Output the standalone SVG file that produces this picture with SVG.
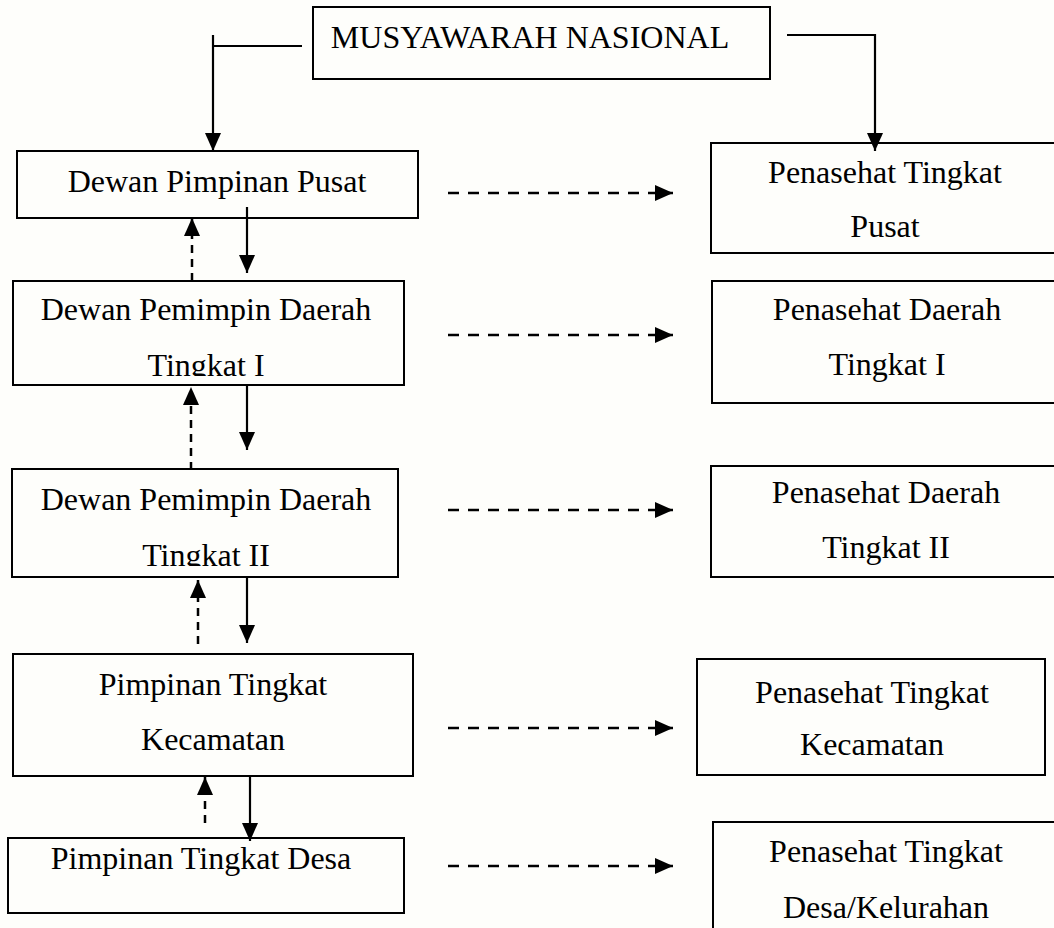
<svg xmlns="http://www.w3.org/2000/svg" width="1054" height="928" viewBox="0 0 1054 928">
<style>
.box{fill:none;stroke:#000;stroke-width:2}
.t{font-family:"Liberation Serif","Times New Roman",serif;font-size:32px;fill:#000;text-anchor:middle}
.ln{stroke:#000;stroke-width:2.2;fill:none}
.dv{stroke:#000;stroke-width:2.5;fill:none;stroke-dasharray:8 6}
.dh{stroke:#000;stroke-width:2.5;fill:none;stroke-dasharray:11 9}
</style>
<defs>
<marker id="ah" markerUnits="userSpaceOnUse" markerWidth="18" markerHeight="16" refX="18" refY="8" orient="auto" viewBox="0 0 18 16">
<path d="M0,0 L18,8 L0,16 z" fill="#000"/>
</marker>
<clipPath id="c2"><rect x="0" y="280" width="420" height="96"/></clipPath>
<clipPath id="c3"><rect x="0" y="468" width="420" height="98"/></clipPath>
</defs>
<rect width="1054" height="928" fill="#fefefb"/>
<g id="connectors">
<polyline class="ln" points="302,46 213,46"/>
<line class="ln" x1="213" y1="35" x2="213" y2="151" marker-end="url(#ah)"/>
<polyline class="ln" points="787,35 875,35 875,151" marker-end="url(#ah)"/>
<line class="ln" x1="247" y1="207" x2="247" y2="273" marker-end="url(#ah)"/>
<line class="ln" x1="247" y1="385" x2="247" y2="450" marker-end="url(#ah)"/>
<line class="ln" x1="247" y1="577" x2="247" y2="643" marker-end="url(#ah)"/>
<line class="ln" x1="250" y1="776" x2="250" y2="841" marker-end="url(#ah)"/>
<line class="dv" x1="192" y1="281" x2="192" y2="218" marker-end="url(#ah)"/>
<line class="dv" x1="191" y1="470" x2="191" y2="387" marker-end="url(#ah)"/>
<line class="dv" x1="198" y1="644" x2="198" y2="580" marker-end="url(#ah)"/>
<line class="dv" x1="205" y1="823" x2="205" y2="777" marker-end="url(#ah)"/>
<line class="dh" x1="448" y1="193" x2="673" y2="193" marker-end="url(#ah)"/>
<line class="dh" x1="448" y1="335" x2="673" y2="335" marker-end="url(#ah)"/>
<line class="dh" x1="448" y1="510" x2="673" y2="510" marker-end="url(#ah)"/>
<line class="dh" x1="448" y1="728" x2="673" y2="728" marker-end="url(#ah)"/>
<line class="dh" x1="448" y1="866" x2="673" y2="866" marker-end="url(#ah)"/>
</g>
<g id="musyawarah">
<rect class="box" x="313" y="7" width="457" height="72"/>
<text class="t" x="530" y="48">MUSYAWARAH NASIONAL</text>
</g>
<g id="dpp">
<rect class="box" x="17" y="151" width="401" height="67"/>
<text class="t" x="217" y="192">Dewan Pimpinan Pusat</text>
</g>
<g id="dpd1">
<rect class="box" x="13" y="281" width="391" height="104"/>
<text class="t" x="206" y="320">Dewan Pemimpin Daerah</text>
<text class="t" x="206" y="376" clip-path="url(#c2)">Tingkat I</text>
</g>
<g id="dpd2">
<rect class="box" x="12" y="469" width="386" height="108"/>
<text class="t" x="206" y="510">Dewan Pemimpin Daerah</text>
<text class="t" x="206" y="566" clip-path="url(#c3)">Tingkat II</text>
</g>
<g id="kecamatan">
<rect class="box" x="13" y="654" width="400" height="122"/>
<text class="t" x="213" y="695">Pimpinan Tingkat</text>
<text class="t" x="213" y="750">Kecamatan</text>
</g>
<g id="desa">
<rect class="box" x="8" y="838" width="396" height="75"/>
<text class="t" x="201" y="869">Pimpinan Tingkat Desa</text>
</g>
<g id="pen-pusat">
<rect class="box" x="711" y="143" width="360" height="110"/>
<text class="t" x="885" y="183">Penasehat Tingkat</text>
<text class="t" x="885" y="237">Pusat</text>
</g>
<g id="pen-dpd1">
<rect class="box" x="712" y="281" width="360" height="122"/>
<text class="t" x="887" y="320">Penasehat Daerah</text>
<text class="t" x="887" y="375">Tingkat I</text>
</g>
<g id="pen-dpd2">
<rect class="box" x="711" y="466" width="360" height="111"/>
<text class="t" x="886" y="503">Penasehat Daerah</text>
<text class="t" x="886" y="558">Tingkat II</text>
</g>
<g id="pen-kecamatan">
<rect class="box" x="697" y="659" width="348" height="116"/>
<text class="t" x="872" y="703">Penasehat Tingkat</text>
<text class="t" x="872" y="755">Kecamatan</text>
</g>
<g id="pen-desa">
<rect class="box" x="713" y="822" width="360" height="120"/>
<text class="t" x="886" y="862">Penasehat Tingkat</text>
<text class="t" x="886" y="918">Desa/Kelurahan</text>
</g>
</svg>
